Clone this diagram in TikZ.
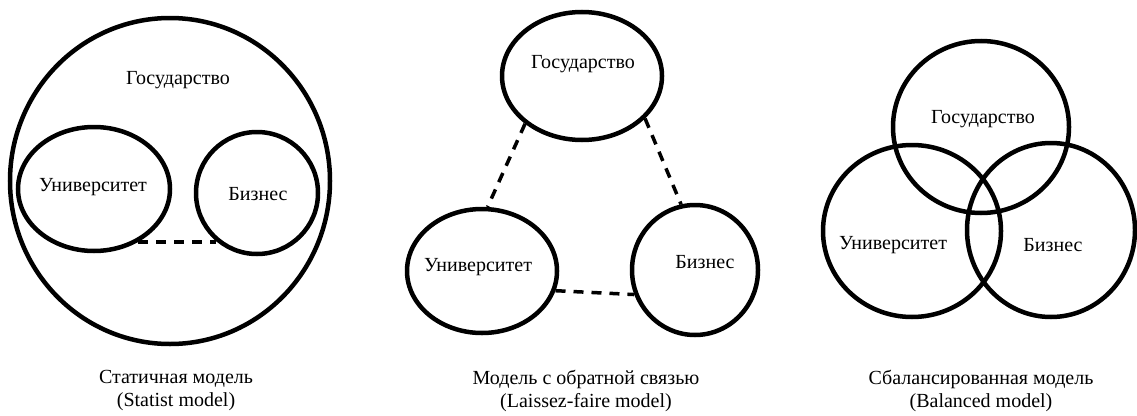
\documentclass[tikz,border=0pt]{standalone}
\usepackage{fontspec}
\setmainfont{Liberation Serif}
\usepackage{tikz}
\usetikzlibrary{shapes.geometric}

\begin{document}
\begin{tikzpicture}[
    x=1pt, y=-1pt,
    part/.style={ellipse, draw=black, line width=4.5pt, inner sep=0pt},
    lbl/.style={font=\fontsize{20}{22}\selectfont, inner sep=0pt},
    captxt/.style={font=\fontsize{20}{23}\selectfont, align=center, inner sep=0pt},
    link/.style={draw=black, line width=3.5pt, dash pattern=on 10pt off 8pt}
]
  \useasboundingbox (0,0) rectangle (1137,415);

  % Statist model
  \node[part, minimum width=320pt, minimum height=326pt] (s-gov) at (170,181) {};
  \node[part, minimum width=152pt, minimum height=124pt] (s-uni) at (94,189) {};
  \node[part, minimum width=122pt, minimum height=122pt] (s-bus) at (257,193) {};
  \node[lbl] (s-gov-t) at (178,80) {Государство};
  \node[lbl] (s-uni-t) at (93,187) {Университет};
  \node[lbl] (s-bus-t) at (258,194) {Бизнес};
  \draw[link] (s-uni.-50) -- (s-uni.-50 -| s-bus.-130);
  \node[captxt] (s-cap) at (176,391) {Статичная модель\\(Statist model)};

  % Laissez-faire model
  \node[part, minimum width=160pt, minimum height=128pt] (l-gov) at (582,76) {};
  \node[part, minimum width=150pt, minimum height=124pt] (l-uni) at (482,271) {};
  \node[part, minimum width=126pt, minimum height=130pt] (l-bus) at (695,270) {};
  \node[lbl] (l-gov-t) at (583,64) {Государство};
  \node[lbl] (l-uni-t) at (478,267) {Университет};
  \node[lbl] (l-bus-t) at (705,262) {Бизнес};
  \draw[link] (l-gov.-140) -- (l-uni.85);
  \draw[link] (l-gov.-34) -- (l-bus.102);
  \draw[link] (l-uni.-15) -- (l-bus.-158);
  \node[captxt] (l-cap) at (586,391) {Модель с обратной связью\\(Laissez-faire model)};

  % Balanced model
  \node[part, minimum width=176pt, minimum height=172pt] (b-gov) at (981,127) {};
  \node[part, minimum width=178pt, minimum height=172pt] (b-uni) at (912,231) {};
  \node[part, minimum width=168pt, minimum height=174pt] (b-bus) at (1051,230) {};
  \node[lbl] (b-gov-t) at (983,119) {Государство};
  \node[lbl] (b-uni-t) at (893,245) {Университет};
  \node[lbl] (b-bus-t) at (1053,245) {Бизнес};
  \node[captxt] (b-cap) at (981,391) {Сбалансированная модель\\(Balanced model)};
\end{tikzpicture}
\end{document}
